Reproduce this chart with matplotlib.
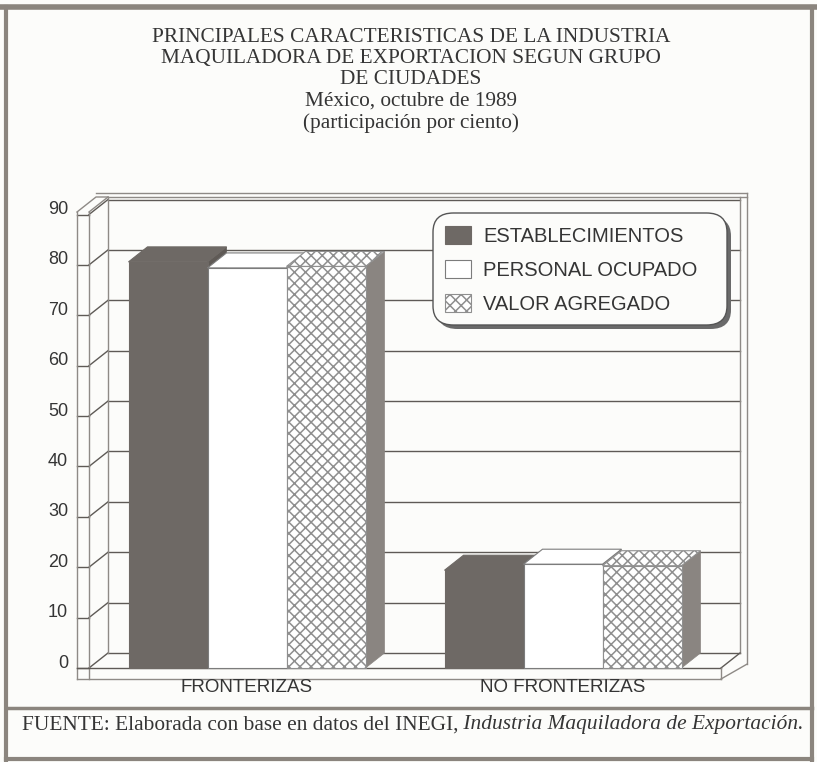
import numpy as np
import matplotlib
matplotlib.use('Agg')
import matplotlib.pyplot as plt
from matplotlib.patches import Polygon, FancyBboxPatch
from matplotlib.lines import Line2D
from matplotlib.transforms import offset_copy

# datos (participacion por ciento)
grupos = ['FRONTERIZAS', 'NO FRONTERIZAS']
series = ['ESTABLECIMIENTOS', 'PERSONAL OCUPADO', 'VALOR AGREGADO']
establecimientos = [80.6, 19.4]
personal_ocupado = [79.4, 20.6]
valor_agregado = [79.7, 20.3]
yticks = [0, 10, 20, 30, 40, 50, 60, 70, 80, 90]

titulo = ['PRINCIPALES CARACTERISTICAS DE LA INDUSTRIA',
          'MAQUILADORA DE EXPORTACION SEGUN GRUPO',
          'DE CIUDADES',
          'México, octubre de 1989',
          '(participación por ciento)']
fuente = 'FUENTE: Elaborada con base en datos del INEGI,'
fuente_it = ' Industria Maquiladora de Exportación.'

W, H = 817, 762
BG = '#fcfcfa'
LINE = '#5e5a56'
WALL = '#8e8a86'
TXT = '#353535'
SERIF = 'Liberation Serif'
SANS = 'Liberation Sans'

plt.rcParams['hatch.linewidth'] = 1.1


def fx(px):
    return px / W


def fy(py):
    return 1 - py / H


fig = plt.figure(figsize=(W / 100, H / 100), dpi=100, facecolor=BG)

# ejes = plano frontal del grafico 3D
ax = fig.add_axes([fx(89), fy(668), (721 - 89) / W, (668 - 212) / H])
ax.set_xlim(-0.5, 1.5)
ax.set_ylim(0, 90.5)
ax.set_axis_off()


def px2data(dx, dy):
    x0, y0 = ax.transData.transform((0, 0))
    return tuple(ax.transData.inverted().transform((x0 + dx, y0 + dy)))


ddx, ddy = px2data(19, 15)      # profundidad
tx, _ = px2data(12, 0)          # grosor pared
_, ty = px2data(0, 11)          # grosor piso
_, ytop = ax.get_ylim()
xl, xr = ax.get_xlim()


def seg(xs, ys, **kw):
    ax.add_line(Line2D(xs, ys, color=kw.pop('color', WALL), lw=kw.pop('lw', 1.0),
                       clip_on=False, zorder=kw.pop('zorder', 1), **kw))


# pared del fondo con lineas de division
for v in yticks:
    seg([xl + ddx, xr + ddx], [v + ddy, v + ddy], color=LINE, lw=1.0)
    seg([xl, xl + ddx], [v, v + ddy], color=LINE, lw=1.0)
    seg([xl - tx, xl], [v, v], color=LINE, lw=1.0)
seg([xl + ddx, xr + ddx + tx * 0.6], [ytop + ddy, ytop + ddy])
seg([xl + ddx - tx, xr + ddx + tx * 0.6], [ytop + ddy + ty * 0.4, ytop + ddy + ty * 0.4])
seg([xl + ddx, xl + ddx], [ddy, ytop + ddy])

# pared izquierda
seg([xl, xl], [-ty, ytop])
seg([xl - tx, xl - tx], [-ty, ytop])
seg([xl - tx, xl - tx + ddx, xl + ddx], [ytop, ytop + ddy, ytop + ddy])
seg([xl, xl + ddx], [ytop, ytop + ddy])

# pared derecha
seg([xr + ddx, xr + ddx], [ddy, ytop + ddy])
seg([xr + ddx + tx * 0.6, xr + ddx + tx * 0.6], [ddy - ty, ytop + ddy + ty * 0.4])

# piso
seg([xl - tx, xr], [0, 0], color=LINE)
seg([xl - tx, xr], [-ty, -ty])
seg([xr, xr + ddx], [0, ddy], color=LINE)
seg([xr, xr], [-ty, 0])
seg([xr, xr + ddx + tx * 0.6], [-ty, ddy - ty])

# barras 3D
valores = [establecimientos, personal_ocupado, valor_agregado]
caras = ['#6e6965', 'white', 'white']
bordes = ['#6e6965', '#7c7c7c', '#8f8f8f']
tramas = [None, None, 'xxx']
lados = ['#5f5a56', '#a09c98', '#8a8581']
ancho = 0.25
xs = np.arange(len(grupos))
handles = []
for i, vals in enumerate(valores):
    z = 3 + 3 * i
    pos = xs + (i - 1) * ancho
    for x, v in zip(pos, vals):
        x0, x1 = x - ancho / 2, x + ancho / 2
        ax.add_patch(Polygon([(x1, 0), (x1 + ddx, ddy), (x1 + ddx, v + ddy), (x1, v)],
                             closed=True, facecolor=lados[i], edgecolor=lados[i],
                             lw=0.5, zorder=z, clip_on=False))
        ax.add_patch(Polygon([(x0, v), (x1, v), (x1 + ddx, v + ddy), (x0 + ddx, v + ddy)],
                             closed=True, facecolor=caras[i], edgecolor=bordes[i],
                             hatch=tramas[i], lw=0.8, zorder=z + 1, clip_on=False))
    b = ax.bar(pos, vals, width=ancho, color=caras[i], edgecolor=bordes[i],
               hatch=tramas[i], lw=0.8, zorder=z + 2, label=series[i], clip_on=False)
    handles.append(b)

# etiquetas de ejes
for v in yticks:
    ax.text(xl - tx, v, str(v), transform=offset_copy(ax.transData, fig, x=-9, y=5, units='dots'),
            ha='right', va='center', family=SANS, fontsize=13, color=TXT)
for x, g in zip(xs, grupos):
    ax.text(x, 0, g, transform=offset_copy(ax.transData, fig, y=-20, units='dots'),
            ha='center', va='center', family=SANS, fontsize=13.5, color=TXT)

# leyenda
sombra = FancyBboxPatch((fx(437), fy(329)), (727 - 433) / W, (325 - 213) / H,
                        boxstyle='round,pad=0,rounding_size=0.025', transform=fig.transFigure,
                        facecolor='#6a6a6a', edgecolor='none', zorder=20)
caja = FancyBboxPatch((fx(433), fy(325)), (727 - 433) / W, (325 - 213) / H,
                      boxstyle='round,pad=0,rounding_size=0.025', transform=fig.transFigure,
                      facecolor=BG, edgecolor='#555555', lw=1.0, zorder=21)
fig.add_artist(sombra)
fig.add_artist(caja)
leg = fig.legend(handles=handles, labels=series, loc='upper left',
                 bbox_to_anchor=(fx(445), fy(226)), bbox_transform=fig.transFigure,
                 frameon=False, borderpad=0, borderaxespad=0,
                 handlelength=1.3, handleheight=1.0, handletextpad=0.6, labelspacing=0.7,
                 prop={'family': SANS, 'size': 14.5})
leg.set_zorder(22)
for t in leg.get_texts():
    t.set_color(TXT)

# titulo
for k, linea in enumerate(titulo):
    fig.text(fx(411), fy(37 + 21.5 * k), linea, ha='center', va='center',
             family=SERIF, fontsize=15.3, color=TXT)

# marco
marco = '#8b857e'
fig.add_artist(Line2D([0, 1], [fy(7), fy(7)], lw=4, color=marco))
fig.add_artist(Line2D([fx(6), fx(6)], [fy(7), fy(760)], lw=3, color=marco))
fig.add_artist(Line2D([fx(812), fx(812)], [fy(7), fy(760)], lw=3, color=marco))
fig.add_artist(Line2D([fx(6), fx(812)], [fy(759), fy(759)], lw=3, color=marco))
fig.add_artist(Line2D([fx(6), fx(812)], [fy(708), fy(708)], lw=2.5, color=marco))

# fuente
t1 = fig.text(fx(22), fy(725), fuente, ha='left', va='center', family=SERIF,
              fontsize=15.4, color=TXT)
fig.add_artist(plt.Annotation(fuente_it, xy=(1, 0.5), xycoords=t1, ha='left', va='center',
                              family=SERIF, style='italic', fontsize=15.4, color=TXT))

fig.savefig('out.png', dpi=100, facecolor=BG)
